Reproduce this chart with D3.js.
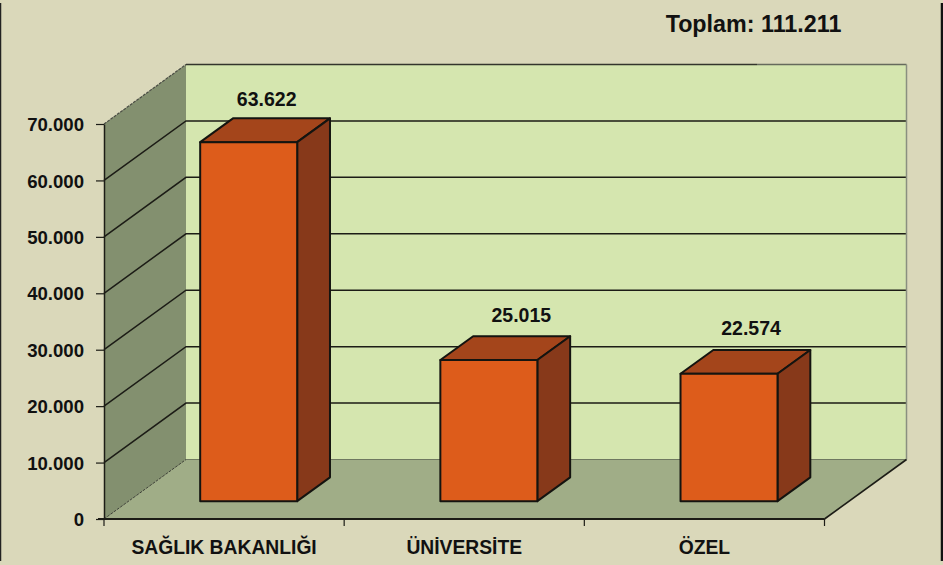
<!DOCTYPE html>
<html lang="tr">
<head>
  <meta charset="utf-8">
  <title>Toplam</title>
  <script src="https://d3js.org/d3.v7.min.js"></script>
  <style>
    html, body { margin: 0; padding: 0; background: #dad8ba; }
    svg { display: block; }
    text { font-family: "Liberation Sans", Arial, sans-serif; font-weight: bold; fill: #111; }
  </style>
</head>
<body>
  <div id="chart"></div>
  <script>
    var categories = ["SAĞLIK BAKANLIĞI", "ÜNİVERSİTE", "ÖZEL"];
    var values = [63622, 25015, 22574];
    var yTicks = [0, 10000, 20000, 30000, 40000, 50000, 60000, 70000];
    var totalLabel = "Toplam: 111.211";

    var w = 943, h = 565;
    var depthX = 82, depthY = -59.5;   // floor depth in screen px
    var barFront = 0.3, barBack = 0.7;  // bar position along the depth
    var labelShift = [[66.5, -12], [81, -14], [70.5, -14.5]];  // value labels were placed by hand in the original

    var svg = d3.select("#chart").append("svg").attr("width", w).attr("height", h);

    var fmt = d3.formatLocale({ decimal: ",", thousands: ".", grouping: [3], currency: ["", ""] }).format(",d");

    var x = d3.scaleBand().domain(categories).range([104, 824.5]);
    var y = d3.scaleLinear().domain([0, 70000]).range([519, 124]);

    function pts(a) { return a.map(function(p) { return p.join(","); }).join(" "); }
    function poly(a, fill, stroke) {
      return svg.append("polygon").attr("points", pts(a)).attr("fill", fill)
        .attr("stroke", stroke || "none").attr("stroke-width", 2).attr("stroke-linejoin", "round");
    }

    // panel edges
    svg.append("line").attr("x1", 0.5).attr("x2", 0.5).attr("y1", 3).attr("y2", h - 4)
      .attr("stroke", "#222").attr("stroke-width", 1.5);
    svg.append("line").attr("x1", w - 1).attr("x2", w - 1).attr("y1", 3).attr("y2", h - 4)
      .attr("stroke", "#111").attr("stroke-width", 2.5);

    var x0 = x.range()[0], x1 = x.range()[1];
    var yTop = y(70000), yBot = y(0);

    // back wall, side wall, floor
    poly([[x0 + depthX, yTop + depthY], [x1 + depthX, yTop + depthY], [x1 + depthX, yBot + depthY], [x0 + depthX, yBot + depthY]], "#d5e6af");
    poly([[x0, yTop], [x0 + depthX, yTop + depthY], [x0 + depthX, yBot + depthY], [x0, yBot]], "#83906f");
    poly([[x0, yBot], [x0 + depthX, yBot + depthY], [x1 + depthX, yBot + depthY], [x1, yBot]], "#a0ad87");

    // gridlines
    svg.selectAll(".grid").data(yTicks.slice(1, -1)).enter().append("polyline")
      .attr("class", "grid")
      .attr("points", function(d) { return pts([[x0, y(d)], [x0 + depthX, y(d) + depthY], [x1 + depthX, y(d) + depthY]]); })
      .attr("fill", "none").attr("stroke", "#1c1c16").attr("stroke-width", 1.5);

    // wall edges
    svg.append("line").attr("x1", x0 + depthX).attr("x2", 757).attr("y1", yTop + depthY).attr("y2", yTop + depthY)
      .attr("stroke", "#33352c").attr("stroke-width", 1.5);
    svg.append("line").attr("x1", 757).attr("x2", x1 + depthX).attr("y1", yTop + depthY).attr("y2", yTop + depthY)
      .attr("stroke", "#666a5c").attr("stroke-width", 1.5);
    svg.append("line").attr("x1", x0).attr("x2", x0 + depthX).attr("y1", yTop).attr("y2", yTop + depthY)
      .attr("stroke", "#4a4d44").attr("stroke-width", 1.2).attr("stroke-dasharray", "3 1");
    svg.append("line").attr("x1", x1 + depthX).attr("x2", x1 + depthX).attr("y1", yTop + depthY).attr("y2", yBot + depthY)
      .attr("stroke", "#8a8f80").attr("stroke-width", 1.5);
    svg.append("line").attr("x1", x0).attr("x2", x0 + depthX).attr("y1", yBot).attr("y2", yBot + depthY)
      .attr("stroke", "#3c4036").attr("stroke-width", 1).attr("stroke-dasharray", "3 1");
    svg.append("line").attr("x1", x0 + depthX).attr("x2", x1 + depthX).attr("y1", yBot + depthY).attr("y2", yBot + depthY)
      .attr("stroke", "#6f7860").attr("stroke-width", 1);
    svg.append("line").attr("x1", x1).attr("x2", x1 + depthX).attr("y1", yBot).attr("y2", yBot + depthY)
      .attr("stroke", "#1c1c16").attr("stroke-width", 1.6);

    // bars
    var barW = 97;
    var bars = svg.selectAll(".bar").data(values).enter().append("g").attr("class", "bar");
    bars.each(function(d, i) {
      var cx = x(categories[i]) + x.bandwidth() / 2;
      var left = cx - barW / 2 + barFront * depthX, right = left + barW;
      var dx = (barBack - barFront) * depthX, dy = (barBack - barFront) * depthY;
      var base = yBot + barFront * depthY, top = base - (yBot - y(d));
      poly([[left, top], [left + dx, top + dy], [right + dx, top + dy], [right, top]], "#a4451b", "#141410");
      poly([[right, top], [right + dx, top + dy], [right + dx, base + dy], [right, base]], "#87391a", "#141410");
      poly([[left, top], [right, top], [right, base], [left, base]], "#dd5c1b", "#141410");
      svg.append("text").attr("x", left + labelShift[i][0]).attr("y", top + dy + labelShift[i][1])
        .attr("text-anchor", "middle").attr("font-size", 19.5).text(fmt(d));
    });

    // axes
    var yAxis = d3.axisLeft(y).tickValues(yTicks).tickFormat(fmt).tickSize(8).tickSizeOuter(0).tickPadding(12);
    var yg = svg.append("g").attr("transform", "translate(" + x0 + ",0)").call(yAxis);
    yg.selectAll("text").attr("font-size", 18.6).attr("font-family", null).attr("dy", "0.36em");
    yg.select(".domain").attr("stroke", "#1c1c16").attr("stroke-width", 1.5);
    yg.selectAll("line").attr("stroke", "#1c1c16").attr("stroke-width", 1.2);

    svg.append("line").attr("x1", x0 - 6).attr("x2", x1).attr("y1", yBot).attr("y2", yBot)
      .attr("stroke", "#1c1c16").attr("stroke-width", 1.8);
    svg.selectAll(".xtick").data(d3.range(categories.length + 1)).enter().append("line")
      .attr("class", "xtick")
      .attr("x1", function(d) { return x0 + d * x.step(); })
      .attr("x2", function(d) { return x0 + d * x.step(); })
      .attr("y1", yBot).attr("y2", yBot + 7)
      .attr("stroke", "#1c1c16").attr("stroke-width", 1.2);

    svg.selectAll(".xlabel").data(categories).enter().append("text")
      .attr("class", "xlabel")
      .attr("x", function(d) { return x(d) + x.bandwidth() / 2; })
      .attr("y", 554).attr("text-anchor", "middle").attr("font-size", 19.3).text(function(d) { return d; });

    svg.append("text").attr("x", 753.5).attr("y", 32).attr("text-anchor", "middle").attr("font-size", 23.3).text(totalLabel);
  </script>
</body>
</html>
